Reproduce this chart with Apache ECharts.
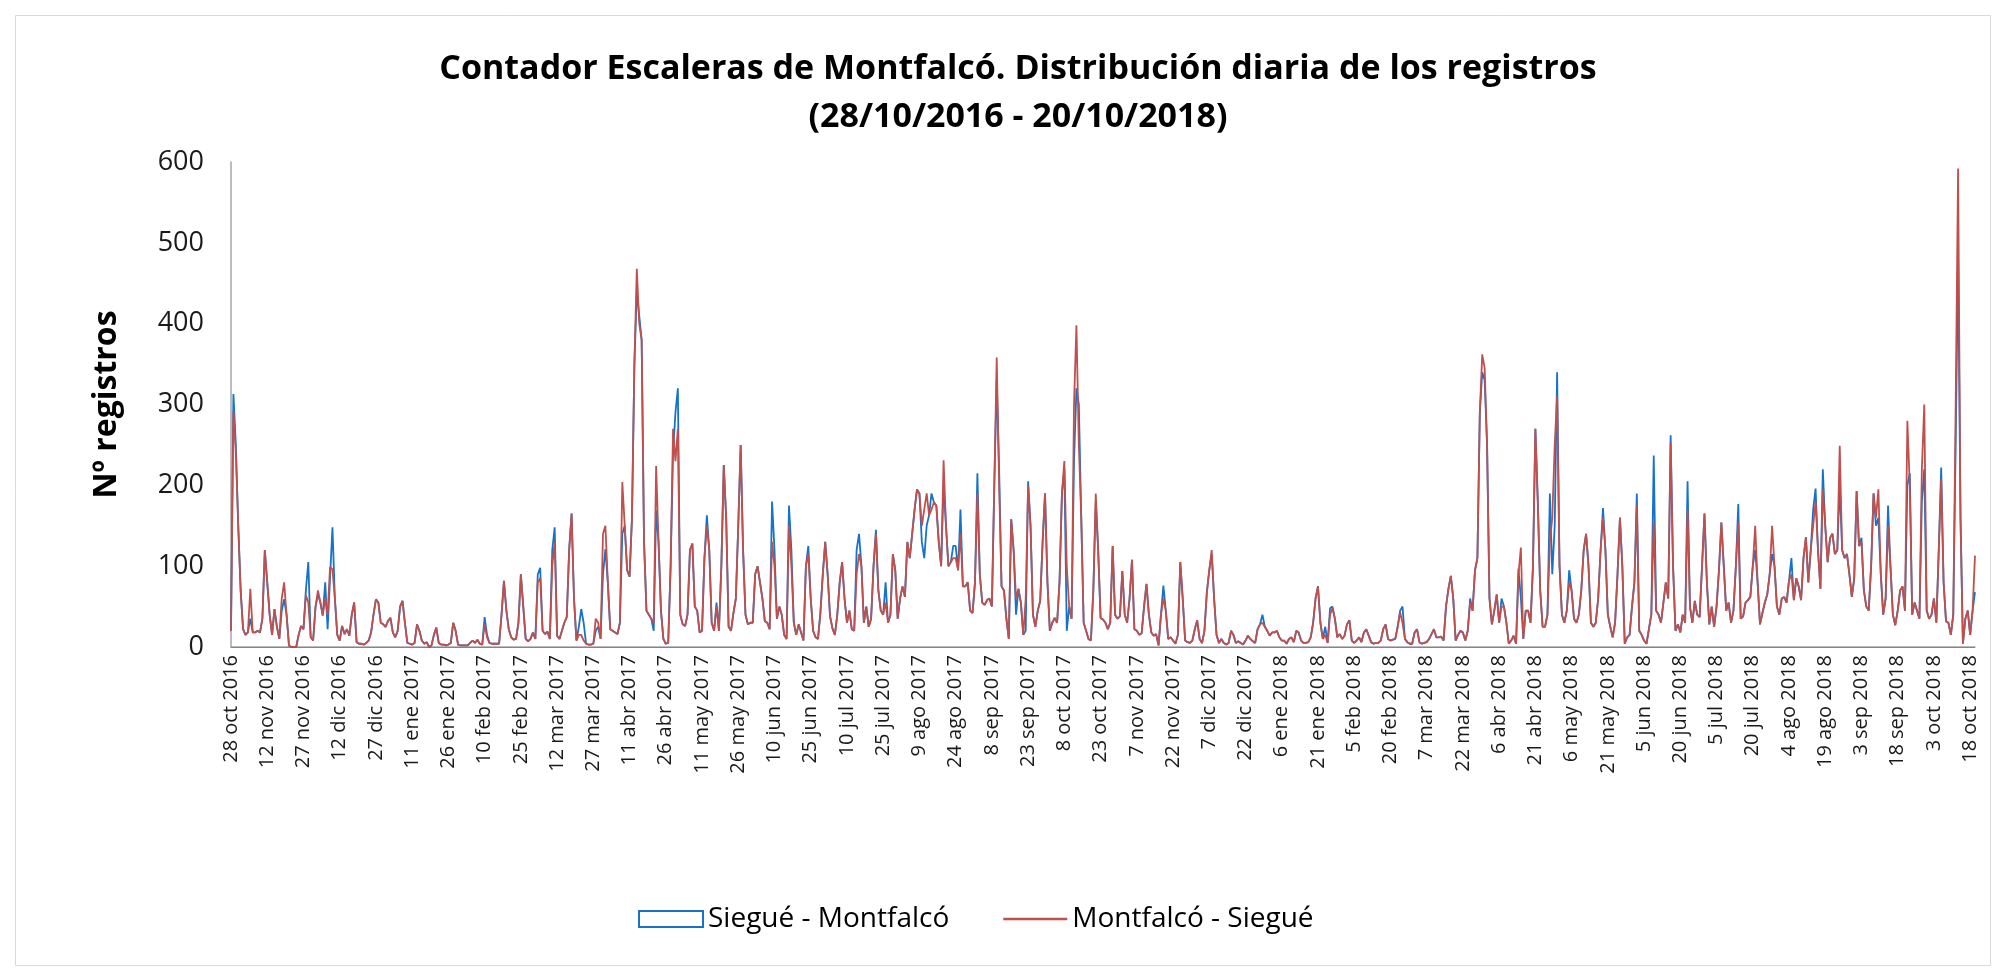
<!DOCTYPE html>
<html>
<head>
<meta charset="utf-8">
<title>Contador Escaleras de Montfalcó</title>
<script src="https://cdn.jsdelivr.net/npm/echarts@6/dist/echarts.min.js"></script>
<style>
  html, body { margin: 0; padding: 0; background: #fff; }
  #chart { width: 2000px; height: 973px; }
</style>
</head>
<body>
<div id="chart"></div>
<script>
// registros diarios, 28/10/2016 .. 20/10/2018 (723 dias)
var sieguMontfalco = [
  20,313,250,150,70,22,15,18,35,18,
  18,20,18,35,120,80,40,15,47,25,
  10,45,59,40,2,0,0,0,15,26,
  22,70,105,12,8,50,65,55,39,80,
  22,85,148,60,15,8,26,16,22,14,
  40,55,6,4,4,3,5,8,18,40,
  59,55,30,28,25,32,36,18,12,20,
  50,57,30,5,4,3,5,28,20,8,
  4,6,0,2,15,24,5,3,3,2,
  3,5,30,20,3,2,2,2,2,5,
  8,5,9,4,3,37,15,5,4,4,
  4,4,40,82,45,22,12,9,10,30,
  90,50,10,7,10,18,10,90,98,20,
  16,19,10,120,148,14,10,20,30,37,
  120,165,60,8,25,47,30,4,3,3,
  4,20,25,10,90,121,80,22,20,18,
  16,30,140,150,95,87,160,350,440,410,
  380,130,45,40,35,20,169,130,45,10,
  4,5,100,240,290,320,40,28,26,40,
  120,128,50,45,18,20,110,163,120,30,
  20,55,20,100,225,160,25,20,42,60,
  150,250,120,40,28,30,30,90,100,80,
  60,32,30,22,180,120,35,50,40,15,
  10,175,120,30,15,28,18,8,100,125,
  60,20,12,10,42,90,130,90,38,23,
  15,40,80,105,60,30,45,22,20,120,
  140,100,30,50,25,35,100,145,70,45,
  40,80,30,40,115,95,35,60,75,62,
  130,110,140,170,195,190,130,110,150,163,
  190,179,175,130,100,200,150,100,105,125,
  125,95,170,75,75,80,45,42,80,215,
  90,55,52,58,60,50,200,330,220,75,
  70,35,10,158,120,40,72,55,15,20,
  205,150,40,25,45,57,130,190,80,20,
  30,36,30,80,190,220,20,50,35,230,
  320,300,160,30,20,10,8,70,180,120,
  36,34,30,22,30,125,40,35,38,94,
  40,30,60,108,22,20,15,17,50,78,
  40,18,14,16,2,40,76,45,10,12,
  8,4,15,105,60,8,6,5,8,22,
  33,10,5,20,68,95,115,60,15,5,
  10,5,3,5,20,15,5,7,5,3,
  8,14,10,7,5,22,28,40,25,20,
  14,18,18,20,12,8,8,4,10,12,
  6,20,18,8,5,5,6,12,30,60,
  75,30,10,25,5,48,50,35,12,16,
  10,14,28,33,8,5,8,12,6,18,
  22,14,6,4,5,5,8,22,28,10,
  8,9,10,25,45,50,10,6,4,4,
  18,22,6,4,5,6,10,16,22,12,
  12,13,8,50,72,88,60,8,15,20,
  18,8,20,60,45,95,110,290,340,330,
  250,60,28,45,65,30,60,50,30,4,
  8,14,4,97,60,10,45,45,30,100,
  270,180,70,25,25,40,190,90,150,340,
  100,40,30,45,95,70,35,30,40,70,
  120,140,100,30,25,30,60,120,172,120,
  40,25,12,30,90,160,100,4,12,15,
  50,80,190,20,15,8,4,22,40,237,
  45,40,30,55,80,60,262,100,20,28,
  18,40,30,205,50,30,57,40,37,100,
  165,80,28,50,25,50,95,154,100,45,
  55,30,45,100,177,35,38,55,58,62,
  100,120,80,28,42,55,65,90,115,100,
  50,40,60,62,55,82,110,58,85,75,
  58,110,136,80,120,170,196,120,72,220,
  150,105,135,140,115,120,200,120,110,115,
  90,62,85,193,125,135,70,50,45,100,
  190,150,160,90,40,60,175,100,40,27,
  45,70,75,45,200,215,40,55,45,35,
  180,220,45,35,40,60,30,120,222,80,
  32,30,15,40,250,480,160,4,35,45,
  15,45,68
];

var montfalcoSiegu = [
  20,292,240,150,70,22,15,18,72,18,
  18,20,18,35,120,80,40,15,47,25,
  10,60,80,40,2,0,0,0,15,26,
  22,64,55,12,8,50,70,55,39,60,
  40,99,96,60,15,8,26,16,22,14,
  40,55,6,4,4,3,5,8,18,40,
  59,55,30,28,25,32,36,18,12,20,
  50,57,30,5,4,3,5,28,20,8,
  4,6,0,2,15,24,5,3,3,2,
  3,5,30,20,3,2,2,2,2,5,
  8,5,9,4,3,28,12,5,4,4,
  4,4,40,82,45,22,12,9,10,30,
  90,50,10,7,10,18,10,80,85,20,
  16,19,10,100,130,14,10,20,30,37,
  120,165,60,8,15,15,8,4,3,3,
  4,35,30,10,140,150,80,22,20,18,
  16,30,204,150,95,87,160,350,468,400,
  380,130,45,40,35,30,224,130,45,10,
  4,5,100,270,230,270,40,28,26,40,
  120,128,50,45,18,20,110,150,120,30,
  20,50,20,100,225,160,25,20,42,60,
  150,250,120,40,28,30,30,90,100,80,
  60,32,30,22,130,100,35,50,40,15,
  10,150,100,30,15,28,18,8,100,115,
  60,20,12,10,42,90,130,90,38,23,
  15,40,80,105,60,30,45,22,20,90,
  115,100,30,50,25,35,100,140,70,45,
  40,55,30,40,115,95,35,60,75,62,
  130,110,140,170,195,190,150,170,190,163,
  170,179,175,130,100,231,150,100,105,110,
  110,95,140,75,75,80,45,42,80,190,
  90,55,52,58,60,50,200,358,200,75,
  70,35,10,158,120,60,72,55,15,60,
  200,150,40,25,45,57,130,190,80,20,
  30,36,30,80,190,230,100,50,35,300,
  398,250,160,30,20,10,8,70,190,120,
  36,34,30,22,30,125,40,35,38,94,
  40,30,60,108,22,20,15,17,50,78,
  40,18,14,16,2,40,60,45,10,12,
  8,4,15,105,60,8,6,5,8,22,
  33,10,5,20,68,95,120,60,15,5,
  10,5,3,5,20,15,5,7,5,3,
  8,14,10,7,5,22,28,30,25,20,
  14,18,18,20,12,8,8,4,10,12,
  6,20,18,8,5,5,6,12,30,60,
  75,30,10,15,5,40,48,35,12,16,
  10,14,28,33,8,5,8,12,6,18,
  22,14,6,4,5,5,8,22,28,10,
  8,9,10,25,43,30,10,6,4,4,
  18,22,6,4,5,6,10,16,22,12,
  12,13,8,50,72,88,60,8,15,20,
  18,8,20,55,45,95,110,290,362,345,
  250,60,28,45,65,30,50,50,30,4,
  8,14,4,90,123,10,45,45,30,100,
  270,180,70,25,25,40,130,160,250,310,
  100,40,30,45,80,70,35,30,40,70,
  120,140,100,30,25,30,60,120,160,120,
  40,25,12,30,90,160,100,4,12,15,
  50,80,175,20,15,8,4,22,40,154,
  45,40,30,55,80,60,253,100,20,28,
  18,40,30,170,50,30,57,40,37,100,
  165,80,28,50,25,50,95,154,100,45,
  55,30,45,100,154,35,38,55,58,62,
  100,150,80,28,42,55,65,90,150,100,
  50,40,60,62,55,82,90,58,85,75,
  58,110,136,80,120,150,180,120,72,195,
  150,105,135,140,115,120,249,120,110,115,
  90,62,85,193,125,130,70,50,45,100,
  190,160,195,90,40,60,150,100,40,27,
  45,70,75,45,280,200,40,55,45,35,
  220,300,45,35,40,60,30,120,208,80,
  32,30,15,40,300,592,160,4,35,45,
  15,45,113
];

// una etiqueta cada 15 dias
var tickLabels = [
  '28 oct 2016','12 nov 2016','27 nov 2016','12 dic 2016','27 dic 2016',
  '11 ene 2017','26 ene 2017','10 feb 2017','25 feb 2017','12 mar 2017',
  '27 mar 2017','11 abr 2017','26 abr 2017','11 may 2017','26 may 2017',
  '10 jun 2017','25 jun 2017','10 jul 2017','25 jul 2017','9 ago 2017',
  '24 ago 2017','8 sep 2017','23 sep 2017','8 oct 2017','23 oct 2017',
  '7 nov 2017','22 nov 2017','7 dic 2017','22 dic 2017','6 ene 2018',
  '21 ene 2018','5 feb 2018','20 feb 2018','7 mar 2018','22 mar 2018',
  '6 abr 2018','21 abr 2018','6 may 2018','21 may 2018','5 jun 2018',
  '20 jun 2018','5 jul 2018','20 jul 2018','4 ago 2018','19 ago 2018',
  '3 sep 2018','18 sep 2018','3 oct 2018','18 oct 2018'
];

var days = montfalcoSiegu.map(function (v, i) { return i; });

var BLUE = '#1773c9';
var RED = '#c0504d';
var FONT = '"Open Sans", "Liberation Sans", sans-serif';

var chart = echarts.init(document.getElementById('chart'));
chart.setOption({
  animation: false,
  backgroundColor: '#fff',
  textStyle: { fontFamily: FONT },
  graphic: [{
    type: 'rect',
    shape: { x: 15.5, y: 15.5, width: 1975, height: 950 },
    style: { fill: 'none', stroke: '#d9d9d9', lineWidth: 1 },
    silent: true
  }],
  title: {
    text: 'Contador Escaleras de Montfalcó. Distribución diaria de los registros\n(28/10/2016 - 20/10/2018)',
    left: 1013,
    textAlign: 'center',
    top: 40,
    textStyle: {
      fontFamily: FONT, fontSize: 34, fontWeight: 'bold',
      color: '#000', lineHeight: 48
    }
  },
  legend: {
    left: 633,
    top: 900,
    itemWidth: 64,
    itemHeight: 16,
    itemGap: 54,
    textStyle: { fontFamily: FONT, fontSize: 28, color: '#000' },
    data: [
      { name: 'Siegué - Montfalcó', icon: 'rect',
        itemStyle: { color: '#fff', borderColor: BLUE, borderWidth: 2 } },
      { name: 'Montfalcó - Siegué', icon: 'path://M0,0H70V2.5H0Z',
        itemStyle: { color: RED } }
    ]
  },
  grid: { left: 231, right: 25, top: 162, bottom: 326 },
  xAxis: {
    type: 'category',
    data: days,
    boundaryGap: false,
    axisLine: { lineStyle: { color: '#a6a6a6', width: 1.5 } },
    axisTick: { show: false },
    axisLabel: {
      interval: 14,
      rotate: 90,
      margin: 8,
      fontSize: 20,
      color: '#1a1a1a',
      fontFamily: FONT,
      formatter: function (v) { return tickLabels[Number(v) / 15]; }
    }
  },
  yAxis: {
    type: 'value',
    min: 0,
    max: 600,
    interval: 100,
    name: 'Nº registros',
    nameLocation: 'middle',
    nameGap: 108,
    nameTextStyle: { fontFamily: FONT, fontSize: 32, fontWeight: 'bold', color: '#000' },
    axisLine: { show: true, lineStyle: { color: '#a6a6a6', width: 1.5 } },
    axisTick: { show: false },
    splitLine: { show: false },
    axisLabel: { fontSize: 27, margin: 27, color: '#1a1a1a', fontFamily: FONT }
  },
  series: [
    {
      name: 'Siegué - Montfalcó',
      type: 'line',
      data: sieguMontfalco,
      symbol: 'none',
      z: 2,
      itemStyle: { color: BLUE },
      lineStyle: { color: BLUE, width: 1.8 },
      markLine: {
        silent: true, symbol: 'none', label: { show: false },
        lineStyle: { color: BLUE, width: 1, type: 'solid', opacity: 0.6 },
        data: [{ yAxis: 0 }]
      }
    },
    {
      name: 'Montfalcó - Siegué',
      type: 'line',
      data: montfalcoSiegu,
      symbol: 'none',
      z: 3,
      itemStyle: { color: RED },
      lineStyle: { color: RED, width: 1.8 }
    }
  ]
});
</script>
</body>
</html>
